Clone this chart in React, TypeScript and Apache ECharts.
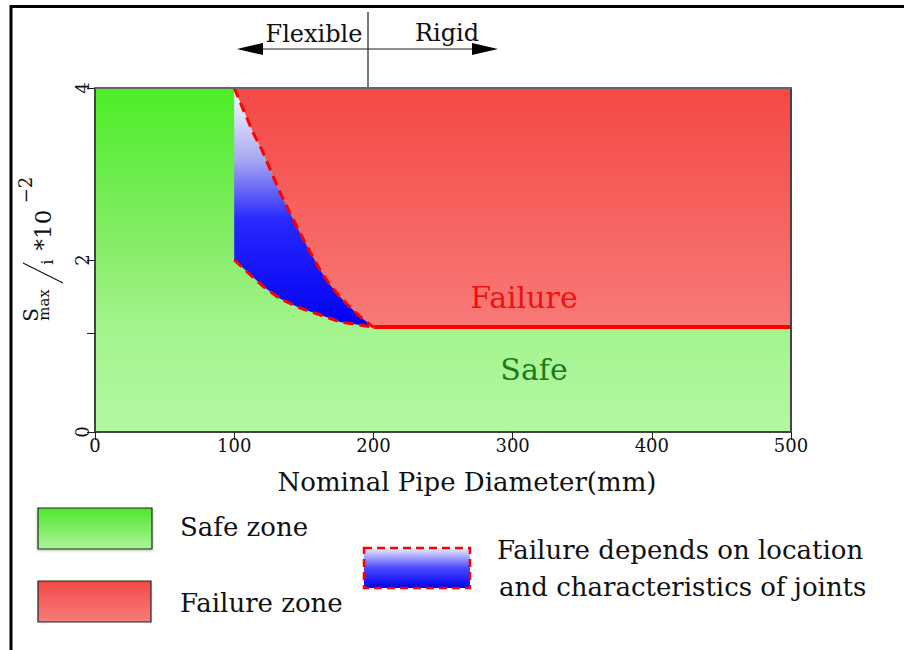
import React, { useEffect, useRef } from "react";
import * as echarts from "echarts";

// ---- data ----
const X_RANGE = [0, 500];
const Y_RANGE = [0, 4];
const X_TICKS = [0, 100, 200, 300, 400, 500];
const Y_LABELS = [0, 2, 4];
const Y_TICKS = [0, 1.15, 2, 4];

// upper boundary (failure / transition), from top at x=100 down to x=200
const upperX = [100, 106.7, 113.9, 119.9, 125.9, 133.1, 140.3, 147.5, 154.7, 161.9, 168, 175, 182, 190.6, 200];
const upperY = [4.0, 3.74, 3.47, 3.28, 3.05, 2.78, 2.54, 2.31, 2.09, 1.88, 1.73, 1.59, 1.47, 1.34, 1.22];
// lower boundary (safe / transition)
const lowerX = [100, 111.5, 121, 133, 147.5, 162, 176, 200];
const lowerY = [2.0, 1.83, 1.69, 1.55, 1.44, 1.36, 1.28, 1.22];
// flat failure threshold for rigid pipes
const thresholdX = [200, 500];
const thresholdY = [1.22, 1.22];

const FONT = "'DejaVu Serif', serif";

const pairs = (xs: number[], ys: number[]) => xs.map((x, i) => [x, ys[i]]);

export default function App() {
  const ref = useRef<HTMLDivElement>(null);
  useEffect(() => {
    if (!ref.current) return;
    const chart = echarts.init(ref.current, undefined, { renderer: "svg" });

    const upper = pairs(upperX, upperY);
    const lower = pairs(lowerX, lowerY);
    const thr = pairs(thresholdX, thresholdY);

    const greenPts = [
      [X_RANGE[0], Y_RANGE[0]],
      [X_RANGE[1], Y_RANGE[0]],
      [X_RANGE[1], Y_RANGE[1]],
      [X_RANGE[0], Y_RANGE[1]],
    ];
    const redPts = [...upper, ...thr.slice(1), [X_RANGE[1], Y_RANGE[1]]];
    const bluePts = [...upper, ...lower.slice().reverse()];

    const greenFill = new echarts.graphic.LinearGradient(0, 0, 0, 1, [
      { offset: 0, color: "#4cee28" },
      { offset: 0.45, color: "#86ec68" },
      { offset: 0.7, color: "#a4f48e" },
      { offset: 1, color: "#b4f7a2" },
    ]);
    const redFill = new echarts.graphic.LinearGradient(0, 0, 0, 1, [
      { offset: 0, color: "#f44846" },
      { offset: 1, color: "#f87a77" },
    ]);
    const blueFill = new echarts.graphic.LinearGradient(0, 0, 0, 1, [
      { offset: 0, color: "#ffffff" },
      { offset: 0.3, color: "#a8a8f2" },
      { offset: 0.55, color: "#2828ff" },
      { offset: 1, color: "#0000f0" },
    ]);

    const poly = (name: string, pts: number[][], fill: any, z: number) => ({
      type: "custom",
      name,
      z,
      silent: true,
      data: [[0, 0]],
      renderItem: (_p: any, api: any) => ({
        type: "polygon",
        shape: { points: pts.map((p) => api.coord(p)) },
        style: { fill },
      }),
    });

    const dashed = { color: "#ff0000", width: 3, type: [10, 6] as any };

    const legendText = (text: string, x: number, y: number, size: number) => ({
      type: "text",
      x,
      y,
      style: { text, fontFamily: FONT, fontSize: size, fill: "#111", align: "left", verticalAlign: "middle" },
    });
    const rotText = (text: string, x: number, y: number, size: number) => ({
      type: "text",
      x,
      y,
      rotation: Math.PI / 2,
      style: { text, fontFamily: FONT, fontSize: size, fill: "#111", align: "center", verticalAlign: "middle" },
    });

    chart.setOption({
      animation: false,
      backgroundColor: "#ffffff",
      grid: { left: 95, top: 88, width: 696, height: 344, containLabel: false },
      xAxis: [
        {
          type: "value",
          min: X_RANGE[0],
          max: X_RANGE[1],
          interval: 100,
          z: 10,
          splitLine: { show: false },
          axisLine: { show: true, onZero: false, lineStyle: { color: "#444", width: 2 } },
          axisTick: { show: true, length: 8, inside: false, customValues: X_TICKS, lineStyle: { color: "#222" } },
          axisLabel: { fontFamily: FONT, fontSize: 18, color: "#111", margin: 4, customValues: X_TICKS },
        },
        {
          type: "value",
          position: "top",
          min: X_RANGE[0],
          max: X_RANGE[1],
          z: 10,
          splitLine: { show: false },
          axisLine: { show: true, onZero: false, lineStyle: { color: "#666", width: 2 } },
          axisTick: { show: false },
          axisLabel: { show: false },
        },
      ],
      yAxis: [
        {
          type: "value",
          min: Y_RANGE[0],
          max: Y_RANGE[1],
          interval: 2,
          z: 10,
          splitLine: { show: false },
          axisLine: { show: true, onZero: false, lineStyle: { color: "#444", width: 2 } },
          axisTick: { show: true, length: 8, customValues: Y_TICKS, lineStyle: { color: "#222" } },
          axisLabel: { fontFamily: FONT, fontSize: 18, color: "#111", rotate: 90, margin: 4, customValues: Y_LABELS },
        },
        {
          type: "value",
          position: "right",
          min: Y_RANGE[0],
          max: Y_RANGE[1],
          z: 10,
          splitLine: { show: false },
          axisLine: { show: true, onZero: false, lineStyle: { color: "#444", width: 2 } },
          axisTick: { show: false },
          axisLabel: { show: false },
        },
      ],
      series: [
        poly("Safe zone", greenPts, greenFill, 1),
        poly("Failure zone", redPts, redFill, 2),
        poly("Failure depends on location and characteristics of joints", bluePts, blueFill, 3),
        { type: "line", data: upper, showSymbol: false, symbol: "none", z: 5, lineStyle: dashed, silent: true },
        { type: "line", data: lower, showSymbol: false, symbol: "none", z: 5, lineStyle: dashed, silent: true },
        { type: "line", data: thr, showSymbol: false, symbol: "none", z: 5, lineStyle: { color: "#ff0000", width: 4 }, silent: true },
      ],
      graphic: [
        // page frame
        { type: "line", shape: { x1: 11, y1: 6.5, x2: 904, y2: 6.5 }, style: { stroke: "#000", lineWidth: 3 } },
        { type: "line", shape: { x1: 11, y1: 5, x2: 11, y2: 650 }, style: { stroke: "#000", lineWidth: 3 } },
        // Flexible / Rigid annotation
        { type: "line", shape: { x1: 368, y1: 12, x2: 368, y2: 88 }, style: { stroke: "#222", lineWidth: 1.2 } },
        { type: "line", shape: { x1: 255, y1: 49, x2: 480, y2: 49 }, style: { stroke: "#222", lineWidth: 1.2 } },
        { type: "polygon", shape: { points: [[237, 49], [263, 43], [263, 55]] }, style: { fill: "#000" } },
        { type: "polygon", shape: { points: [[498, 49], [472, 43], [472, 55]] }, style: { fill: "#000" } },
        { type: "text", x: 314, y: 34, style: { text: "Flexible", fontFamily: FONT, fontSize: 24, fill: "#111", align: "center", verticalAlign: "middle" } },
        { type: "text", x: 447, y: 33, style: { text: "Rigid", fontFamily: FONT, fontSize: 24, fill: "#111", align: "center", verticalAlign: "middle" } },
        // zone labels
        { type: "text", x: 524, y: 297, z: 20, style: { text: "Failure", fontFamily: FONT, fontSize: 30, fill: "#ee1111", align: "center", verticalAlign: "middle" } },
        { type: "text", x: 534, y: 369, z: 20, style: { text: "Safe", fontFamily: FONT, fontSize: 30, fill: "#1f7a1f", align: "center", verticalAlign: "middle" } },
        // x axis title
        { type: "text", x: 467, y: 482, style: { text: "Nominal Pipe Diameter(mm)", fontFamily: FONT, fontSize: 26, fill: "#111", align: "center", verticalAlign: "middle" } },
        // y axis title  S_max / i *10^-2 (rotated)
        rotText("S", 31, 315, 20),
        rotText("max", 44, 305, 15),
        { type: "line", shape: { x1: 23, y1: 263, x2: 63, y2: 283 }, style: { stroke: "#111", lineWidth: 1.2 } },
        rotText("i", 47, 262, 17),
        rotText("*10", 43, 230, 23),
        rotText("−2", 25, 190, 18),
        // legend
        {
          type: "rect",
          shape: { x: 38, y: 508, width: 114, height: 41 },
          style: {
            fill: new echarts.graphic.LinearGradient(0, 0, 0, 1, [
              { offset: 0, color: "#50e62e" },
              { offset: 1, color: "#aef39a" },
            ]),
            stroke: "#222",
            lineWidth: 1.2,
            shadowColor: "rgba(60,140,60,0.5)",
            shadowBlur: 3,
            shadowOffsetY: 1,
          },
        },
        legendText("Safe zone", 180, 527, 26),
        {
          type: "rect",
          shape: { x: 38, y: 581, width: 113, height: 41 },
          style: {
            fill: new echarts.graphic.LinearGradient(0, 0, 0, 1, [
              { offset: 0, color: "#f44846" },
              { offset: 1, color: "#f87d7a" },
            ]),
            stroke: "#222",
            lineWidth: 1.2,
          },
        },
        legendText("Failure zone", 180, 603, 26),
        {
          type: "rect",
          shape: { x: 364, y: 548, width: 106, height: 40 },
          style: {
            fill: new echarts.graphic.LinearGradient(0, 0, 0, 1, [
              { offset: 0, color: "#eeeefc" },
              { offset: 0.5, color: "#4a4aff" },
              { offset: 1, color: "#0000ee" },
            ]),
            stroke: "#ff0000",
            lineWidth: 2.5,
            lineDash: [8, 5],
          },
        },
        legendText("Failure depends on location", 497, 550, 26),
        legendText("and characteristics of joints", 499, 587, 26),
      ],
    });
    return () => chart.dispose();
  }, []);
  return <div ref={ref} style={{ position: "fixed", left: 0, top: 0, width: 904, height: 650 }} />;
}
